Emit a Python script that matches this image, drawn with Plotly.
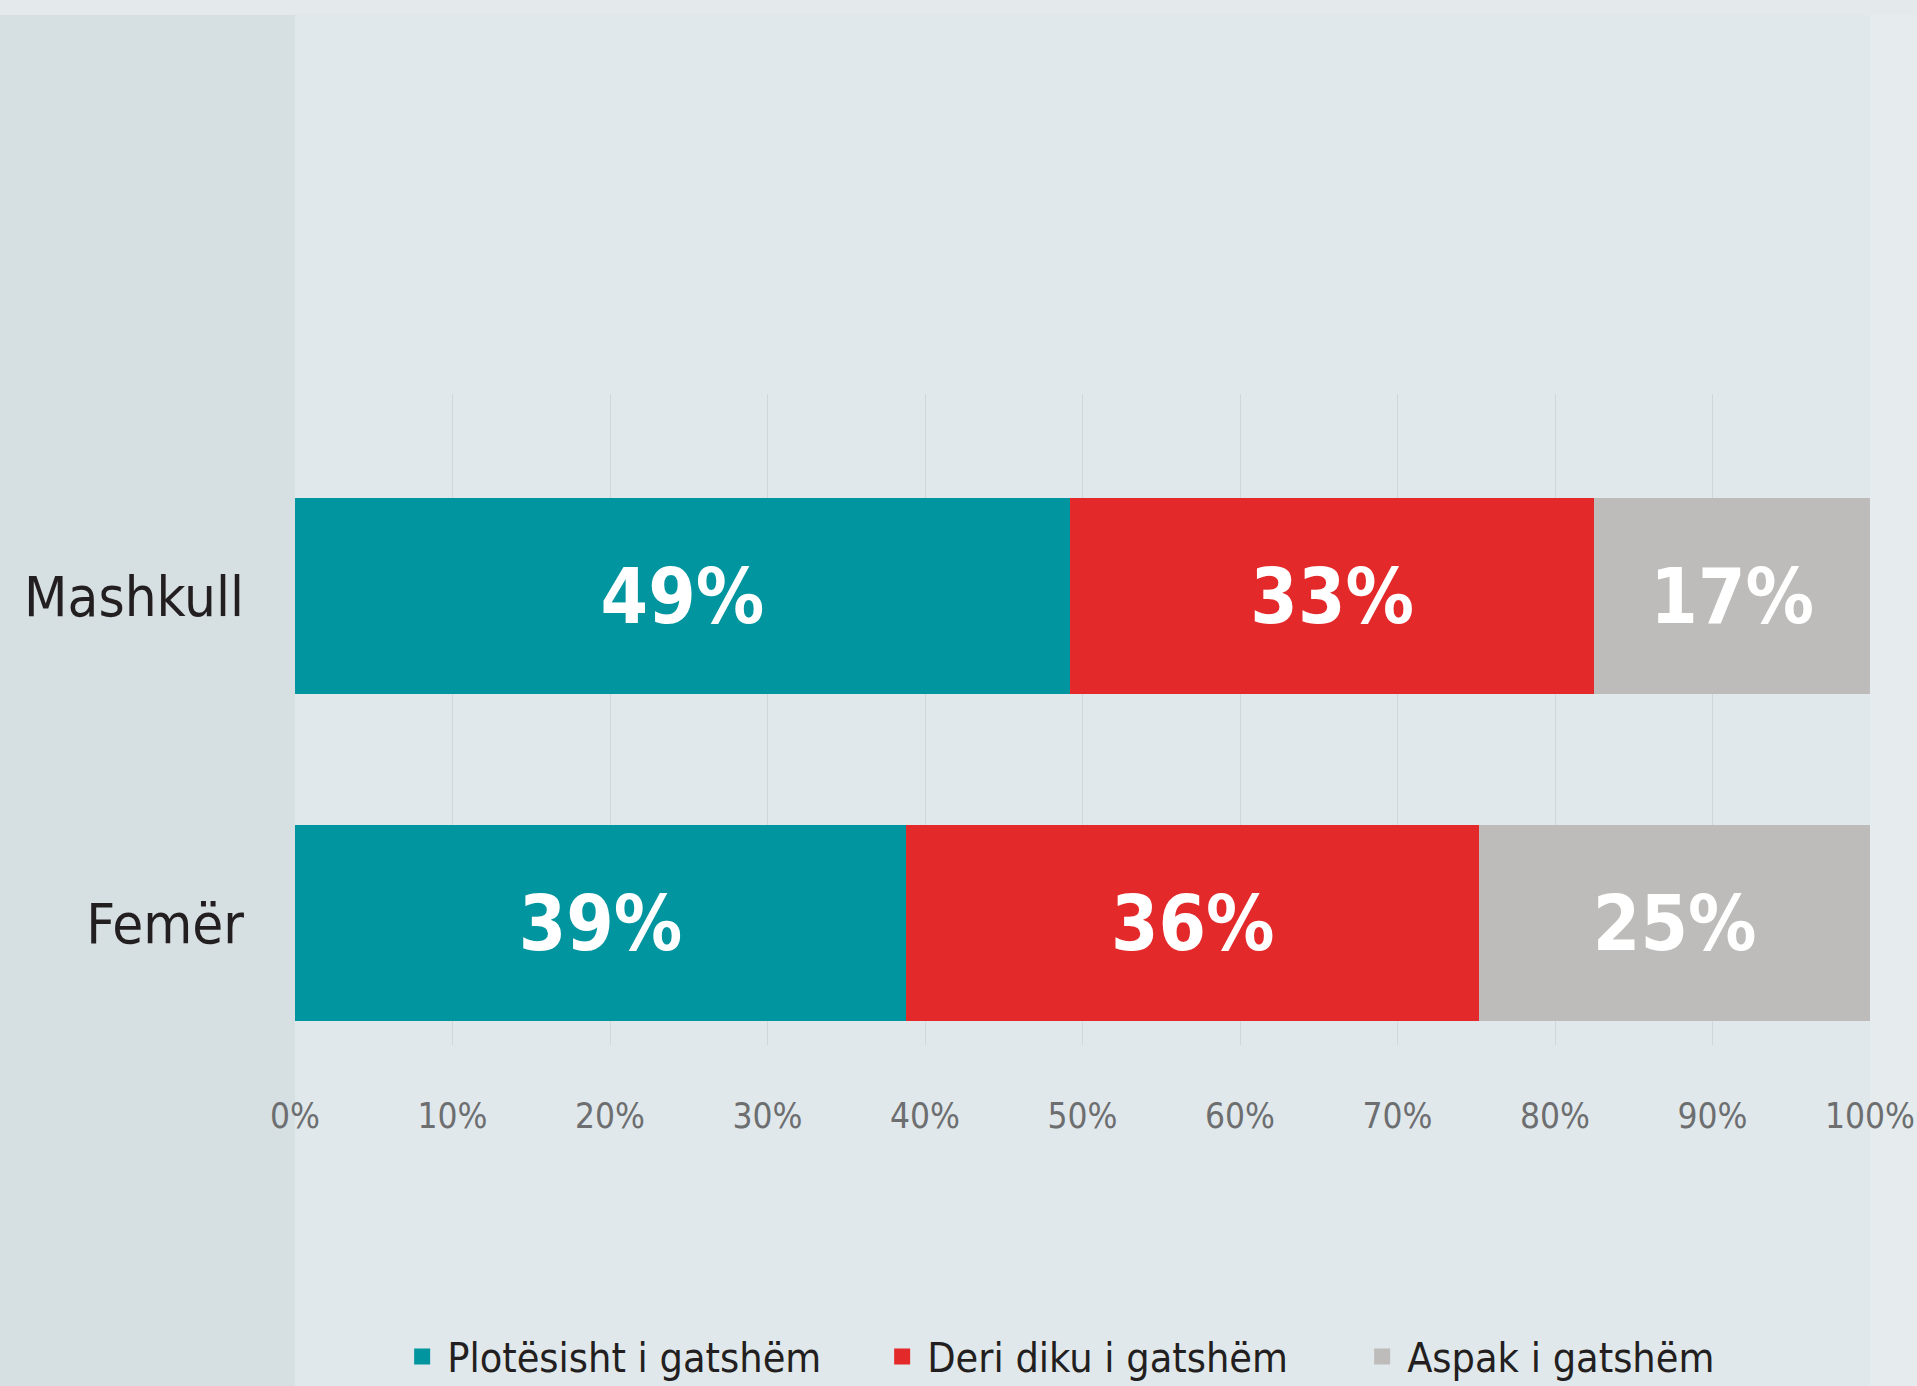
import plotly.graph_objects as go

categories = ["Mashkull", "Femër"]
series_names = ["Plotësisht i gatshëm", "Deri diku i gatshëm", "Aspak i gatshëm"]
plotesisht = [49.2, 38.8]
deri_diku = [33.3, 36.4]
aspak = [17.5, 24.8]
labels_plotesisht = ["49%", "39%"]
labels_deri_diku = ["33%", "36%"]
labels_aspak = ["17%", "25%"]
tick_vals = [0, 10, 20, 30, 40, 50, 60, 70, 80, 90, 100]
tick_text = ["0%", "10%", "20%", "30%", "40%", "50%", "60%", "70%", "80%", "90%", "100%"]
colors = ["#00959f", "#e4292b", "#bdbcba"]

FONT = "DejaVu Sans Condensed, Liberation Sans Narrow, sans-serif"

fig = go.Figure()
for name, vals, labs, col in zip(series_names,
                                 [plotesisht, deri_diku, aspak],
                                 [labels_plotesisht, labels_deri_diku, labels_aspak],
                                 colors):
    fig.add_trace(go.Bar(
        y=categories, x=vals, orientation="h", name=name,
        marker=dict(color=col, line=dict(width=0)),
        text=labs, textposition="inside", insidetextanchor="middle",
        textangle=0,
        textfont=dict(family=FONT, size=76, color="white", weight="bold"),
        showlegend=False, legendgroup=name, hoverinfo="x+y",
    ))
    fig.add_trace(go.Scatter(
        x=[None], y=[None], mode="markers", name=name, legendgroup=name,
        marker=dict(symbol="square", size=16, color=col),
        showlegend=True,
    ))

fig.update_layout(
    width=1917, height=1386,
    barmode="stack", bargap=0.4,
    paper_bgcolor="#d6dfe2", plot_bgcolor="rgba(0,0,0,0)",
    margin=dict(l=295, r=47, t=394, b=341, autoexpand=False),
    font=dict(family=FONT, color="#231f20"),
    uniformtext=dict(mode=False),
    shapes=[
        dict(type="rect", xref="paper", yref="paper", x0=0, x1=1, y0=-0.53, y1=1.582,
             fillcolor="#e1e8eb", line=dict(width=0), layer="below"),
        dict(type="rect", xref="paper", yref="paper", x0=1, x1=1.03, y0=-0.53, y1=1.582,
             fillcolor="#e6ecee", line=dict(width=0), layer="below"),
        dict(type="rect", xref="paper", yref="paper", x0=-0.19, x1=1.03, y0=1.582, y1=1.61,
             fillcolor="#e4eaec", line=dict(width=0), layer="below"),
    ],
    xaxis=dict(
        range=[0, 100], tickvals=tick_vals, ticktext=tick_text,
        showgrid=True, gridcolor="rgba(205,210,212,0.8)", gridwidth=1,
        zeroline=False, showline=False, ticks="",
        tickfont=dict(family=FONT, size=35, color="#6d6e70"),
        ticklabelstandoff=47, ticklabeloverflow="allow", automargin=False,
        fixedrange=True,
    ),
    yaxis=dict(
        range=[1.373, -0.618], showgrid=False, zeroline=False, showline=False,
        ticks="", tickfont=dict(family=FONT, size=56, color="#231f20"),
        ticklabelstandoff=50, automargin=False, fixedrange=True,
    ),
    legend=dict(
        orientation="h", x=0.522, xanchor="center", y=-0.479, yanchor="middle",
        font=dict(family=FONT, size=41, color="#231f20"),
        bgcolor="rgba(0,0,0,0)", itemwidth=40, entrywidth=425,
        traceorder="normal",
    ),
)

fig.write_html("out.html", config={"displayModeBar": False},
               post_script="document.body.style.margin='0';")
